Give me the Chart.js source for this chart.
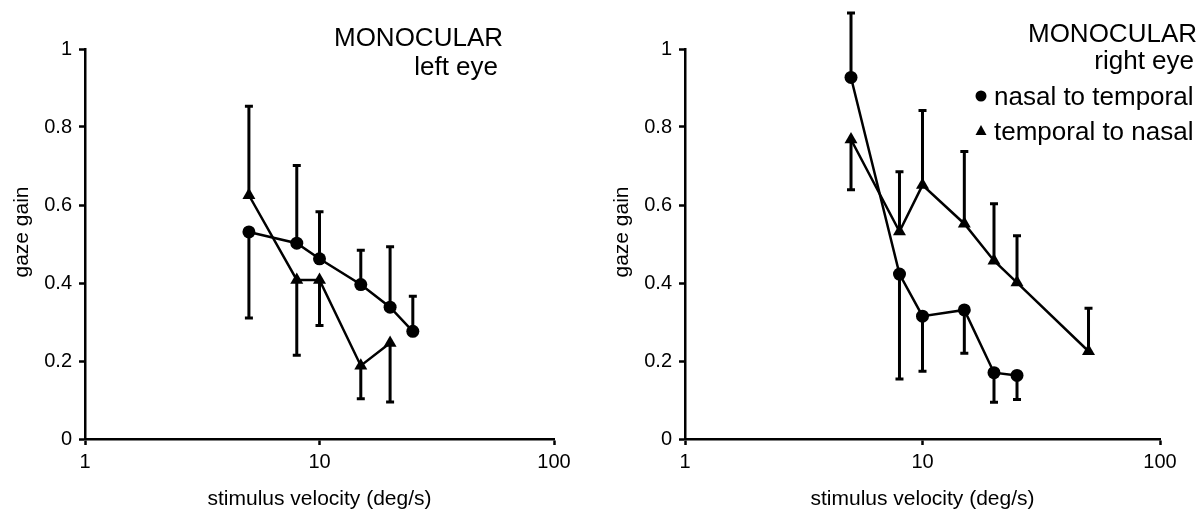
<!DOCTYPE html>
<html>
<head>
<meta charset="utf-8">
<script src="https://cdn.jsdelivr.net/npm/chart.js@4"></script>
<style>
  html, body { margin: 0; padding: 0; background: #fff; }
  #wrap { position: relative; width: 1201px; height: 510px; }
  .panel { position: absolute; top: 0; height: 510px; }
  #p1 { left: 0; width: 600px; }
  #p2 { left: 600px; width: 601px; }
</style>
</head>
<body>
<div id="wrap">
  <div class="panel" id="p1"><canvas id="c1"></canvas></div>
  <div class="panel" id="p2"><canvas id="c2"></canvas></div>
</div>
<script>
// ---- data ----
const xTickValues = [1, 10, 100];
const yTickValues = [0, 0.2, 0.4, 0.6, 0.8, 1];

const velocities = [5, 8, 10, 15, 20, 25];
const velocitiesRightTri = [5, 8, 10, 15, 20, 25, 50];

// left eye
const leftCircle     = [0.531, 0.502, 0.462, 0.396, 0.338, 0.276];
const leftCircleErr  = [0.310, 0.701, 0.583, 0.484, 0.493, 0.366];   // error bar end values
const leftTriangle   = [0.625, 0.408, 0.408, 0.188, 0.246];
const leftTriangleErr= [0.853, 0.215, 0.291, 0.103, 0.095];

// right eye
const rightCircle     = [0.927, 0.423, 0.315, 0.331, 0.170, 0.163];
const rightCircleErr  = [1.092, 0.154, 0.174, 0.220, 0.094, 0.101];
const rightTriangle   = [0.768, 0.532, 0.651, 0.552, 0.457, 0.401, 0.225];
const rightTriangleErr= [0.639, 0.685, 0.842, 0.737, 0.603, 0.521, 0.335];

const seriesNames = ['nasal to temporal', 'temporal to nasal'];
const xTitle = 'stimulus velocity (deg/s)';
const yTitle = 'gaze gain';

// ---- helpers ----
const FONT = '"Liberation Sans", Arial, sans-serif';
function pts(xs, ys) { return ys.map((y, i) => ({ x: xs[i], y: y })); }

const errorBarPlugin = {
  id: 'errorBars',
  afterDatasetsDraw(chart) {
    const ctx = chart.ctx;
    const xs = chart.scales.x, ys = chart.scales.y;
    ctx.save();
    ctx.strokeStyle = '#000';
    ctx.lineWidth = 3;
    ctx.lineCap = 'butt';
    chart.data.datasets.forEach(ds => {
      (ds.errEnds || []).forEach((e, i) => {
        const p = ds.data[i];
        const px = xs.getPixelForValue(p.x);
        const py = ys.getPixelForValue(p.y);
        const pe = ys.getPixelForValue(e);
        ctx.beginPath();
        ctx.moveTo(px, py); ctx.lineTo(px, pe);
        ctx.moveTo(px - 4, pe); ctx.lineTo(px + 4, pe);
        ctx.stroke();
      });
    });
    ctx.restore();
  }
};

function textPlugin(lines, legend) {
  return {
    id: 'texts',
    afterDraw(chart) {
      const ctx = chart.ctx;
      const ca = chart.chartArea;
      ctx.save();
      ctx.fillStyle = '#000';
      // axis titles
      ctx.font = '21px ' + FONT;
      ctx.textAlign = 'center';
      ctx.textBaseline = 'middle';
      ctx.fillText(xTitle, (ca.left + ca.right) / 2, 499);
      ctx.save();
      ctx.translate(22, 232);
      ctx.rotate(-Math.PI / 2);
      ctx.fillText(yTitle, 0, 0);
      ctx.restore();
      // panel labels
      ctx.font = '26px ' + FONT;
      ctx.textAlign = 'right';
      ctx.textBaseline = 'alphabetic';
      lines.forEach(l => ctx.fillText(l.t, l.x, l.y));
      if (legend) {
        ctx.textAlign = 'left';
        legend.forEach(l => {
          ctx.fillText(l.t, l.x + 13, l.y);
          ctx.beginPath();
          if (l.m === 'circle') {
            ctx.arc(l.x, l.y - 9, 5.5, 0, Math.PI * 2);
          } else {
            ctx.moveTo(l.x, l.y - 15); ctx.lineTo(l.x + 5.5, l.y - 5); ctx.lineTo(l.x - 5.5, l.y - 5); ctx.closePath();
          }
          ctx.fill();
        });
      }
      ctx.restore();
    }
  };
}

function makeChart(id, datasets, rightPad, plugins) {
  const tickFont = { family: FONT, size: 20 };
  return new Chart(document.getElementById(id), {
    type: 'line',
    data: { datasets: datasets },
    options: {
      responsive: true,
      maintainAspectRatio: false,
      animation: false,
      devicePixelRatio: 1,
      layout: { padding: { left: 0, right: rightPad, top: 49, bottom: 0 }, autoPadding: false },
      plugins: { legend: { display: false }, tooltip: { enabled: false } },
      scales: {
        x: {
          type: 'logarithmic', min: 1, max: 100, position: 'bottom',
          afterBuildTicks: s => { s.ticks = xTickValues.map(v => ({ value: v })); },
          afterFit: s => { s.height = 71; },
          ticks: { callback: v => String(v), font: tickFont, color: '#000', padding: 5, maxRotation: 0, autoSkip: false },
          grid: { drawOnChartArea: false, drawTicks: true, tickLength: 6, tickWidth: 2.5, tickColor: '#000', color: '#000' },
          border: { display: true, color: '#000', width: 2.5 }
        },
        y: {
          type: 'linear', min: 0, max: 1,
          afterBuildTicks: s => { s.ticks = yTickValues.map(v => ({ value: v })); },
          afterFit: s => { s.width = 85; },
          ticks: { callback: v => (v === 0 || v === 1) ? String(v) : v.toFixed(1), font: tickFont, color: '#000', padding: 7 },
          grid: { drawOnChartArea: false, drawTicks: true, tickLength: 6, tickWidth: 2.5, tickColor: '#000', color: '#000' },
          border: { display: true, color: '#000', width: 2.5 }
        }
      }
    },
    plugins: [errorBarPlugin].concat(plugins)
  });
}

function ds(label, data, errEnds, style) {
  return {
    label: label, data: data, errEnds: errEnds,
    borderColor: '#000', backgroundColor: '#000', borderWidth: 2.5,
    pointStyle: style, pointRadius: style === 'circle' ? 6.5 : 7.5, pointBorderWidth: 0,
    pointBackgroundColor: '#000', tension: 0, clip: false, fill: false
  };
}

makeChart('c1', [
  ds(seriesNames[0], pts(velocities, leftCircle), leftCircleErr, 'circle'),
  ds(seriesNames[1], pts(velocities, leftTriangle), leftTriangleErr, 'triangle')
], 600 - 554, [textPlugin([
  { t: 'MONOCULAR', x: 503, y: 46 },
  { t: 'left eye', x: 498, y: 75 }
], null)]);

makeChart('c2', [
  ds(seriesNames[0], pts(velocities, rightCircle), rightCircleErr, 'circle'),
  ds(seriesNames[1], pts(velocitiesRightTri, rightTriangle), rightTriangleErr, 'triangle')
], 601 - 560, [textPlugin([
  { t: 'MONOCULAR', x: 597, y: 42 },
  { t: 'right eye', x: 594, y: 69 }
], [
  { t: seriesNames[0], x: 381, y: 105, m: 'circle' },
  { t: seriesNames[1], x: 381, y: 140, m: 'triangle' }
])]);
</script>
</body>
</html>
